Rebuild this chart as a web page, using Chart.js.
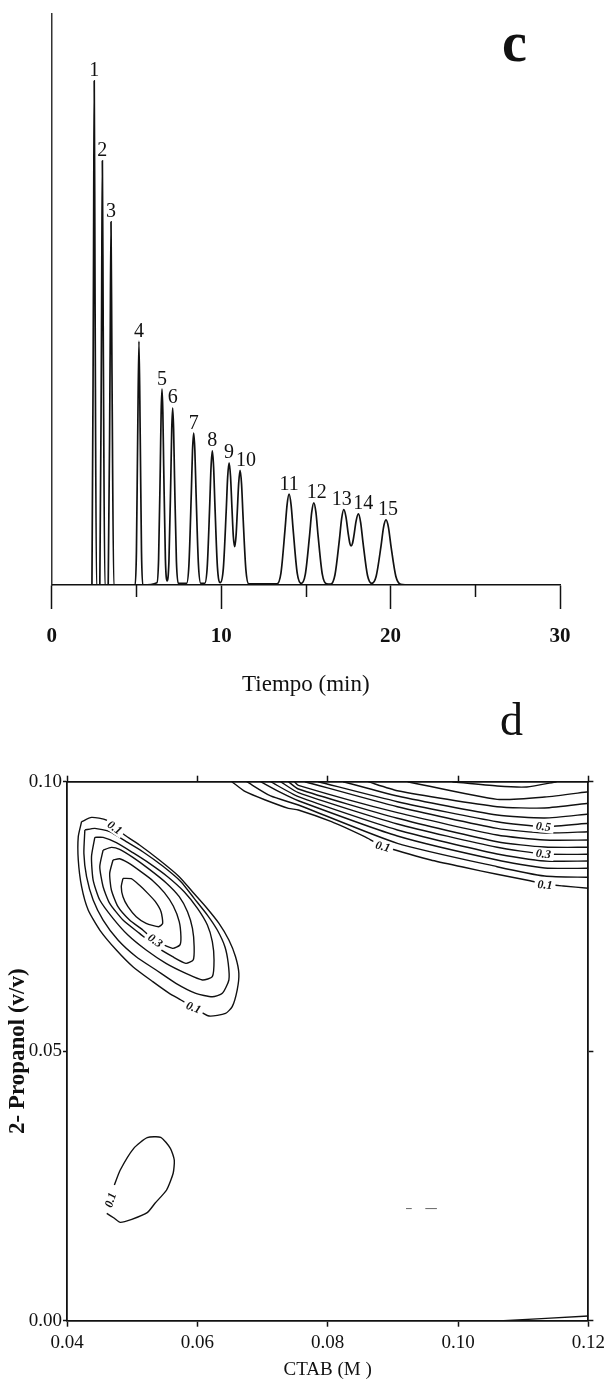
<!DOCTYPE html>
<html><head><meta charset="utf-8">
<script src="https://cdn.jsdelivr.net/npm/chart.js@4.4.1/dist/chart.umd.min.js"></script>
<style>
html,body{margin:0;padding:0;background:#fff}
body{width:610px;height:1382px;position:relative;overflow:hidden}
canvas{position:absolute;left:0}
#chartC{top:0}
#chartD{top:700px}
.panel{position:absolute;font-family:'Liberation Serif','Times New Roman',serif;color:#111;line-height:1}
</style></head><body>
<canvas id="chartC" width="610" height="700"></canvas>
<canvas id="chartD" width="610" height="682"></canvas>
<div class="panel" style="left:502px;top:14px;font-size:56px;font-weight:bold">c</div>
<div class="panel" style="left:500px;top:697px;font-size:46px">d</div>
<script>
const SERIF = "'Liberation Serif', 'Times New Roman', serif";
const INK = '#111';

// ---------- Panel c : chromatogram ----------
const xTicksC = [0, 10, 20, 30];
const xTickLabelsC = ['0', '10', '20', '30'];
const xMinorTicksC = [5, 15, 25];
const xTitleC = 'Tiempo (min)';

const peakLabels  = ['1','2','3','4','5','6','7','8','9','10','11','12','13','14','15'];
const peakTimes   = [2.51, 2.99, 3.50, 5.15, 6.51, 7.14, 8.38, 9.48, 10.47, 11.12, 14.01, 15.47, 17.24, 18.10, 19.73];
const peakHeights = [88.3, 74.3, 63.6, 42.7, 34.3, 31.0, 26.6, 23.5, 21.4, 20.1, 15.9, 14.4, 13.2, 12.45, 11.4];

const traceTime = [
  0, 2.375, 2.465, 2.51, 2.555, 2.645,
  2.84, 2.94, 2.99, 3.04, 3.14,
  3.335, 3.445, 3.50, 3.555, 3.665,
  4.925, 5.0, 5.075, 5.15, 5.225, 5.30, 5.375,
  6.21, 6.31, 6.41, 6.46, 6.51, 6.56, 6.61, 6.71,
  6.81, 6.92, 7.03, 7.085, 7.14, 7.195, 7.25, 7.36, 7.47,
  7.96, 8.10, 8.24, 8.31, 8.38, 8.45, 8.52, 8.66, 8.80,
  9.03, 9.18, 9.33, 9.405, 9.48, 9.555, 9.63, 9.78,
  9.95, 10.13, 10.30, 10.385, 10.47, 10.555, 10.64, 10.72, 10.80, 10.88, 10.95, 11.035, 11.12, 11.205, 11.29, 11.46, 11.63,
  13.29, 13.53, 13.77, 13.89, 14.01, 14.13, 14.25, 14.49, 14.73,
  14.97, 15.22, 15.345, 15.47, 15.595, 15.72, 15.97, 16.22,
  16.46, 16.72, 16.98, 17.11, 17.24, 17.37, 17.50, 17.60, 17.67, 17.75, 17.83, 17.965, 18.10, 18.235, 18.37, 18.64,
  18.89, 19.15, 19.44, 19.585, 19.73, 19.875, 20.02, 20.31, 20.60, 21.2, 30
];
const traceSignal = [
  0, 0, 53.6, 88.3, 53.6, 0,
  0, 45.1, 74.3, 45.1, 0,
  0, 38.6, 63.6, 38.6, 0,
  0, 5.8, 25.9, 42.7, 25.9, 5.8, 0,
  0.4, 4.6, 20.8, 30.3, 34.3, 30.3, 20.8, 4.6,
  0.7, 4.2, 18.8, 27.3, 31.0, 27.3, 18.8, 4.2, 0.3,
  0.3, 3.6, 16.1, 23.5, 26.6, 23.5, 16.1, 3.6, 0.3,
  0.3, 3.2, 14.3, 20.7, 23.5, 20.7, 14.3, 3.2,
  0.4, 2.9, 13.0, 18.9, 21.4, 19.0, 13.4, 8.5, 6.7, 8.6, 12.6, 17.8, 20.1, 17.7, 12.2, 2.7, 0.2,
  0.2, 2.1, 9.7, 14.0, 15.9, 14.0, 9.7, 2.1, 0.3,
  1.9, 8.7, 12.7, 14.4, 12.7, 8.7, 1.9, 0.2,
  0.15, 1.8, 7.95, 11.6, 13.2, 11.9, 9.0, 7.25, 6.83, 7.26, 8.5, 11.2, 12.45, 10.94, 7.52, 1.67,
  0.3, 1.54, 6.9, 10.1, 11.4, 10.1, 6.9, 1.54, 0.13, 0, 0
];

// ---------- Panel d : contour map ----------
const xTicksD = [0.04, 0.06, 0.08, 0.10, 0.12];
const xTickLabelsD = ['0.04', '0.06', '0.08', '0.10', '0.12'];
const yTicksD = [0, 0.05, 0.10];
const yTickLabelsD = ['0.00', '0.05', '0.10'];
const xTitleD = 'CTAB (M )';
const yTitleD = '2- Propanol (v/v)';

// elliptical optimum (upper left), levels 0.10 ... 0.35
const ell010 = [[0.04224,0.09258],[0.04376,0.09338],[0.04605,0.09289],[0.04884,0.09011],[0.05113,0.08825],[0.05417,0.08547],[0.05722,0.08238],[0.05925,0.07959],[0.06129,0.07681],[0.06332,0.07372],[0.06484,0.07063],[0.06586,0.06753],[0.06637,0.06444],[0.06611,0.06135],[0.06535,0.05826],[0.06433,0.05702],[0.06179,0.05653],[0.05925,0.05826],[0.05748,0.05950],[0.05570,0.06073],[0.05316,0.06290],[0.05011,0.06568],[0.04757,0.06877],[0.04503,0.07248],[0.04325,0.07619],[0.04224,0.08052],[0.04173,0.08547],[0.04173,0.08980],[0.04224,0.09258]];
const ell015 = [[0.04274,0.09103],[0.04427,0.09134],[0.04655,0.09072],[0.04909,0.08887],[0.05163,0.08701],[0.05468,0.08435],[0.05748,0.08145],[0.05951,0.07836],[0.06154,0.07526],[0.06306,0.07248],[0.06423,0.06939],[0.06474,0.06630],[0.06484,0.06321],[0.06383,0.06073],[0.06230,0.06011],[0.05976,0.06073],[0.05671,0.06259],[0.05367,0.06506],[0.05062,0.06753],[0.04782,0.07063],[0.04554,0.07434],[0.04401,0.07805],[0.04300,0.08238],[0.04259,0.08670],[0.04274,0.09103]];
const ell020 = [[0.04427,0.08967],[0.04554,0.08967],[0.04757,0.08868],[0.05011,0.08683],[0.05265,0.08485],[0.05544,0.08238],[0.05798,0.07959],[0.06002,0.07650],[0.06154,0.07341],[0.06230,0.07032],[0.06256,0.06692],[0.06230,0.06382],[0.06078,0.06321],[0.05824,0.06444],[0.05519,0.06630],[0.05214,0.06877],[0.04935,0.07155],[0.04706,0.07465],[0.04503,0.07805],[0.04401,0.08176],[0.04376,0.08609],[0.04427,0.08967]];
const ell025 = [[0.04554,0.08732],[0.04681,0.08782],[0.04808,0.08745],[0.05011,0.08596],[0.05265,0.08374],[0.05519,0.08126],[0.05722,0.07867],[0.05849,0.07588],[0.05925,0.07279],[0.05951,0.06939],[0.05936,0.06692],[0.05824,0.06630],[0.05621,0.06753],[0.05367,0.06939],[0.05113,0.07186],[0.04859,0.07434],[0.04655,0.07743],[0.04554,0.08052],[0.04503,0.08423],[0.04554,0.08732]];
const ell030 = [[0.04706,0.08547],[0.04808,0.08571],[0.04935,0.08497],[0.05113,0.08349],[0.05316,0.08163],[0.05494,0.07941],[0.05631,0.07693],[0.05722,0.07403],[0.05748,0.07124],[0.05732,0.06970],[0.05621,0.06908],[0.05341,0.07063],[0.05163,0.07248],[0.04960,0.07434],[0.04782,0.07681],[0.04681,0.07990],[0.04655,0.08299],[0.04706,0.08547]];
const ell035 = [[0.04859,0.08207],[0.04986,0.08200],[0.05113,0.08077],[0.05240,0.07928],[0.05356,0.07774],[0.05443,0.07588],[0.05468,0.07372],[0.05407,0.07310],[0.05214,0.07372],[0.05062,0.07496],[0.04935,0.07681],[0.04859,0.07867],[0.04833,0.08052],[0.04859,0.08207]];

// small closed contour (lower left), level 0.10 (open where its label sits)
const loop010 = [[0.04727,0.02518],[0.04817,0.02796],[0.05024,0.03198],[0.05231,0.03395],[0.05438,0.03402],[0.05586,0.03198],[0.05646,0.02981],[0.05629,0.02735],[0.05528,0.02425],[0.05350,0.02178],[0.05231,0.02004],[0.04994,0.01881],[0.04817,0.01825],[0.04727,0.01900],[0.04610,0.01992]];

// ridge in the upper right corner, levels 0.10 ... 0.70
const ur010 = [[0.06530,0.1],[0.06738,0.09814],[0.07043,0.09660],[0.07398,0.09506],[0.07550,0.09475],[0.08058,0.09258],[0.08567,0.08980],[0.08846,0.08807],[0.09582,0.08547],[0.10091,0.08412],[0.10598,0.08282],[0.11105,0.08163],[0.11334,0.08102],[0.11614,0.08065],[0.12,0.08022]];
const ur015 = [[0.06758,0.1],[0.07124,0.09735],[0.07550,0.09568],[0.0907,0.08857],[0.1060,0.08423],[0.1133,0.08250],[0.12,0.08226]];
const ur020 = [[0.06971,0.1],[0.07276,0.09800],[0.07550,0.09647],[0.0907,0.08993],[0.1060,0.08547],[0.1133,0.08399],[0.12,0.08393]];
const ur025 = [[0.07124,0.1],[0.07550,0.09722],[0.0907,0.09104],[0.1060,0.08659],[0.1133,0.08529],[0.12,0.08529]];
const ur030 = [[0.07276,0.1],[0.07550,0.09796],[0.0907,0.09215],[0.1060,0.08783],[0.1133,0.08659],[0.12,0.08653]];
const ur035 = [[0.07398,0.1],[0.07550,0.09865],[0.0907,0.09321],[0.1060,0.08887],[0.1133,0.08788],[0.12,0.08783]];
const ur040 = [[0.07490,0.1],[0.07550,0.09933],[0.0907,0.09425],[0.1060,0.09011],[0.1133,0.08918],[0.12,0.08918]];
const ur045 = [[0.07650,0.1],[0.0907,0.09536],[0.1060,0.09135],[0.1133,0.09048],[0.12,0.09072]];
const ur050 = [[0.07855,0.1],[0.0907,0.09629],[0.1060,0.09258],[0.1133,0.09165],[0.12,0.09228]];
const ur055 = [[0.08236,0.1],[0.0907,0.09735],[0.1060,0.09382],[0.1133,0.09327],[0.12,0.09401]];
const ur060 = [[0.08617,0.1],[0.0907,0.09833],[0.1060,0.09536],[0.1133,0.09512],[0.12,0.09599]];
const ur065 = [[0.09227,0.1],[0.1060,0.09673],[0.1133,0.09716],[0.12,0.09814]];
const ur070 = [[0.09912,0.1],[0.1060,0.09920],[0.11055,0.09902],[0.11512,0.1]];

// lower right corner contour
const br010 = [[0.10700,0.0],[0.12,0.00087]];
// faint dash marks near (0.094, 0.021)
const dashA = [[0.09202,0.0208],[0.09290,0.0208]];
const dashB = [[0.09498,0.0208],[0.09676,0.0208]];

const contourLabelText = ['0.1','0.3','0.1','0.1','0.1','0.5','0.3','0.1'];
const contourLabelX    = [0.04731,0.05352,0.05940,0.04669,0.08846,0.11310,0.11310,0.11334];
const contourLabelY    = [0.09147,0.07050,0.05807,0.02239,0.08794,0.09165,0.08659,0.08083];

// ---------- plugins ----------
const peakLabelPlugin = {
  id: 'peakLabels',
  afterDatasetsDraw(chart, args, opts) {
    const {ctx, scales: {x, y}} = chart;
    ctx.save();
    ctx.font = opts.font;
    ctx.fillStyle = INK;
    ctx.textAlign = 'center';
    ctx.textBaseline = 'alphabetic';
    peakLabels.forEach((lab, i) => {
      const px = x.getPixelForValue(peakTimes[i]) + (opts.shift[lab] || 0);
      const py = y.getPixelForValue(peakHeights[i]) - opts.gap;
      ctx.fillText(lab, px, py);
    });
    ctx.restore();
  }
};
const minorTickPlugin = {
  id: 'minorTicks',
  afterDraw(chart, args, opts) {
    const {ctx, scales: {x}, chartArea} = chart;
    ctx.save();
    ctx.strokeStyle = INK;
    ctx.lineWidth = opts.width;
    xMinorTicksC.forEach(v => {
      const px = Math.round(x.getPixelForValue(v)) + 0.5;
      ctx.beginPath();
      ctx.moveTo(px, chartArea.bottom);
      ctx.lineTo(px, chartArea.bottom + opts.length);
      ctx.stroke();
    });
    ctx.restore();
  }
};
const contourLabelPlugin = {
  id: 'contourLabels',
  afterDatasetsDraw(chart, args, opts) {
    const {ctx, scales: {x, y}} = chart;
    ctx.save();
    ctx.font = opts.font;
    ctx.textAlign = 'center';
    ctx.textBaseline = 'middle';
    contourLabelText.forEach((t, i) => {
      const px = x.getPixelForValue(contourLabelX[i]);
      const py = y.getPixelForValue(contourLabelY[i]);
      ctx.save();
      ctx.translate(px, py);
      ctx.rotate(opts.rotation[i] * Math.PI / 180);
      const w = ctx.measureText(t).width;
      ctx.fillStyle = '#fff';
      ctx.fillRect(-w / 2 - 3, -6, w + 6, 12);
      ctx.fillStyle = INK;
      ctx.fillText(t, 0, 0.5);
      ctx.restore();
    });
    ctx.restore();
  }
};

Chart.defaults.font.family = SERIF;
Chart.defaults.color = INK;

// ---------- chart c ----------
new Chart(document.getElementById('chartC'), {
  type: 'scatter',
  data: {
    datasets: [{
      data: traceTime.map((t, i) => ({x: t, y: traceSignal[i]})),
      showLine: true,
      borderColor: INK,
      borderWidth: 1.7,
      pointRadius: 0,
      cubicInterpolationMode: 'monotone',
      fill: false
    }]
  },
  options: {
    responsive: false, animation: false, devicePixelRatio: 1,
    layout: {padding: {top: 14, right: 50, left: 0, bottom: 0}},
    plugins: {
      legend: {display: false}, tooltip: {enabled: false},
      peakLabels: {font: "20px " + SERIF, gap: 4.5, shift: {'10': 6, '12': 3, '13': -2, '14': 5, '15': 2}},
      minorTicks: {length: 12, width: 1.5}
    },
    scales: {
      x: {
        type: 'linear', min: 0, max: 30,
        afterBuildTicks: s => { s.ticks = xTicksC.map(v => ({value: v})); },
        ticks: {callback: (v, i) => xTickLabelsC[i], font: {family: SERIF, size: 21, weight: 'bold'}, color: INK, padding: 15, maxRotation: 0, autoSkip: false},
        grid: {drawOnChartArea: false, drawTicks: true, tickLength: 24, tickColor: INK, tickWidth: 1.5},
        border: {display: true, color: INK, width: 1.5},
        title: {display: true, text: xTitleC, font: {family: SERIF, size: 23}, color: INK, padding: {top: 0, bottom: 1}},
        afterFit: s => { s.height = 115; }
      },
      y: {
        type: 'linear', min: 0, max: 100,
        ticks: {display: false},
        grid: {display: false, drawTicks: false},
        border: {display: true, color: '#333', width: 1.5},
        afterFit: s => { s.width = 51.7; }
      }
    }
  },
  plugins: [peakLabelPlugin, minorTickPlugin]
});

// ---------- chart d ----------
const contourLines = [ell010, ell015, ell020, ell025, ell030, ell035, loop010,
  ur010, ur015, ur020, ur025, ur030, ur035, ur040, ur045, ur050, ur055, ur060, ur065, ur070, br010];
const dsD = contourLines.map(pts => ({
  data: pts.map(p => ({x: p[0], y: p[1]})),
  showLine: true, borderColor: INK, borderWidth: 1.4, pointRadius: 0, tension: 0.2, fill: false
}));
[dashA, dashB].forEach(pts => dsD.push({
  data: pts.map(p => ({x: p[0], y: p[1]})),
  showLine: true, borderColor: '#666', borderWidth: 1, pointRadius: 0, fill: false
}));

const axisGrid = {drawOnChartArea: false, drawTicks: true, tickColor: INK, tickWidth: 1.5};
const axisBorder = {display: true, color: INK, width: 1.8};

new Chart(document.getElementById('chartD'), {
  type: 'scatter',
  data: {datasets: dsD},
  options: {
    responsive: false, animation: false, devicePixelRatio: 1,
    layout: {padding: 0},
    plugins: {
      legend: {display: false}, tooltip: {enabled: false},
      contourLabels: {font: "italic bold 12px " + SERIF, rotation: [35, 35, 22, -72, 15, 6, 6, 4]}
    },
    scales: {
      x: {
        type: 'linear', position: 'bottom', min: 0.04, max: 0.12,
        afterBuildTicks: s => { s.ticks = xTicksD.map(v => ({value: v})); },
        ticks: {callback: (v, i) => xTickLabelsD[i], font: {family: SERIF, size: 19}, color: INK, padding: 5, maxRotation: 0, autoSkip: false},
        grid: Object.assign({tickLength: 6}, axisGrid),
        border: axisBorder,
        title: {display: true, text: xTitleD, font: {family: SERIF, size: 19}, color: INK, padding: {top: 0, bottom: 1}},
        afterFit: s => { s.height = 61.3; }
      },
      x2: {
        type: 'linear', position: 'top', min: 0.04, max: 0.12,
        afterBuildTicks: s => { s.ticks = xTicksD.map(v => ({value: v})); },
        ticks: {display: false},
        grid: Object.assign({tickLength: 6}, axisGrid),
        border: axisBorder,
        afterFit: s => { s.height = 81.7; }
      },
      y: {
        type: 'linear', position: 'left', min: 0, max: 0.10,
        afterBuildTicks: s => { s.ticks = yTicksD.map(v => ({value: v})); },
        ticks: {callback: (v, i) => yTickLabelsD[i], font: {family: SERIF, size: 19}, color: INK, padding: 1, autoSkip: false},
        grid: Object.assign({tickLength: 4}, axisGrid),
        border: axisBorder,
        title: {display: true, text: yTitleD, font: {family: SERIF, size: 23, weight: 'bold'}, color: INK, padding: {top: 4, bottom: 0}},
        afterFit: s => { s.width = 67; }
      },
      y2: {
        type: 'linear', position: 'right', min: 0, max: 0.10,
        afterBuildTicks: s => { s.ticks = yTicksD.map(v => ({value: v})); },
        ticks: {display: false},
        grid: Object.assign({tickLength: 5}, axisGrid),
        border: axisBorder,
        afterFit: s => { s.width = 18; }
      }
    }
  },
  plugins: [contourLabelPlugin]
});
</script>
</body></html>
